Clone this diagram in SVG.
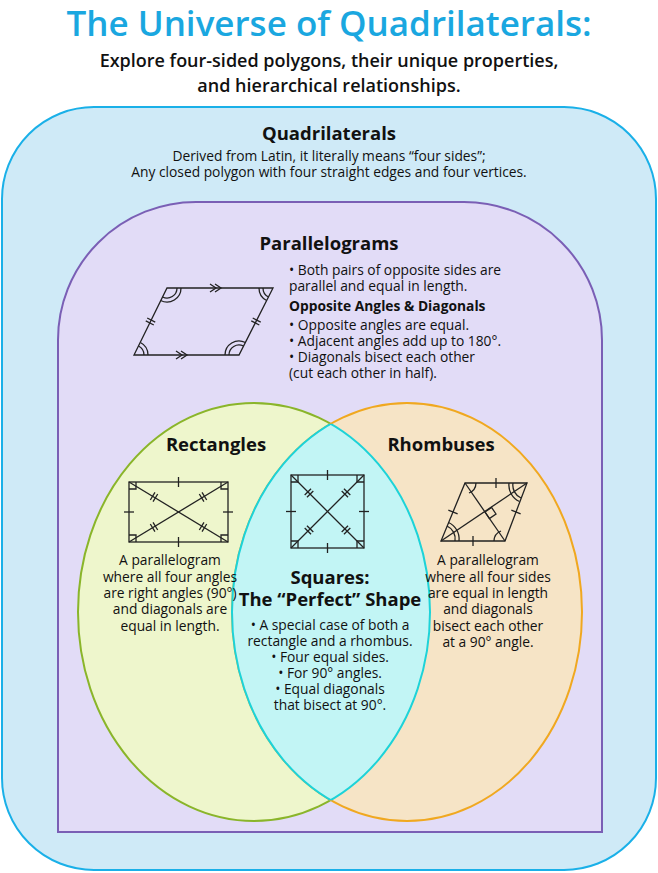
<svg xmlns="http://www.w3.org/2000/svg" xmlns:xlink="http://www.w3.org/1999/xlink" width="658" height="873" viewBox="0 0 658 873">
<style>
text{font-family:"Open Sans","Noto Sans","Liberation Sans",sans-serif;fill:#111;text-anchor:middle}
.h{font-size:18.5px;font-weight:bold}
.b{font-size:13.8px}
.l{text-anchor:start}
.fig{fill:none;stroke:#222;stroke-width:1.3}
</style>
<defs>
<g id="dt"><line x1="-1.6" y1="-4.5" x2="-1.6" y2="4.5"/><line x1="1.6" y1="-4.5" x2="1.6" y2="4.5"/></g>
<g id="st"><line x1="0" y1="-5" x2="0" y2="5"/></g>
<clipPath id="cl"><ellipse cx="254" cy="612" rx="176" ry="209"/></clipPath>
<clipPath id="cr"><ellipse cx="407" cy="612" rx="175" ry="209"/></clipPath>
</defs>
<rect width="658" height="873" fill="#fff"/>
<text x="329" y="36" style="font-size:35px;font-weight:600;fill:#1aa7e0">The Universe of Quadrilaterals:</text>
<text x="329" y="67" style="font-size:18px;font-weight:600">Explore four-sided polygons, their unique properties,</text>
<text x="329" y="92" style="font-size:18px;font-weight:600">and hierarchical relationships.</text>

<g id="quadrilaterals">
<rect x="2" y="107" width="654" height="763" rx="92" fill="#cfeaf7" stroke="#1ab0e8" stroke-width="2"/>
<text class="h" x="329" y="140">Quadrilaterals</text>
<text class="b" x="329" y="161">Derived from Latin, it literally means “four sides”;</text>
<text class="b" x="329" y="177">Any closed polygon with four straight edges and four vertices.</text>
</g>

<g id="parallelograms">
<path d="M58,832 V340 A138,138 0 0 1 196,202 H464 A138,138 0 0 1 602,340 V832 Z" fill="#e2dcf7" stroke="#7a5fb5" stroke-width="2"/>
<text class="h" x="329" y="250">Parallelograms</text>
<text class="b l" x="289" y="275">• Both pairs of opposite sides are</text>
<text class="b l" x="289" y="291">parallel and equal in length.</text>
<text class="b l" x="289" y="311" font-weight="bold">Opposite Angles &amp; Diagonals</text>
<text class="b l" x="289" y="330">• Opposite angles are equal.</text>
<text class="b l" x="289" y="346">• Adjacent angles add up to 180°.</text>
<text class="b l" x="289" y="362">• Diagonals bisect each other</text>
<text class="b l" x="289" y="378">(cut each other in half).</text>
<g class="fig">
<polygon points="167,288 273,288 239,355 134,355"/>
<path d="M210,284 L216,288 L210,292 M215,284 L221,288 L215,292"/>
<path d="M176,351 L182,355 L176,359 M181,351 L187,355 L181,359"/>
<use xlink:href="#dt" transform="translate(150.5,321.5) rotate(-63)"/>
<use xlink:href="#dt" transform="translate(256,321.5) rotate(-63)"/>
<path d="M177,288 A10,10 0 0 1 162.5,297 M181,288 A14,14 0 0 1 160.6,300.5"/>
<path d="M229,355 A10,10 0 0 1 243.5,346 M225,355 A14,14 0 0 1 245.4,342.5"/>
<path d="M263,288 A10,10 0 0 0 268.5,297 M259,288 A14,14 0 0 0 266.6,300.5"/>
<path d="M144,355 A10,10 0 0 0 138.5,346 M148,355 A14,14 0 0 0 140.4,342.5"/>
</g>
</g>

<g id="rectangles">
<ellipse cx="254" cy="612" rx="176" ry="209" fill="#eef6cc" stroke="#8ab52a" stroke-width="2"/>
</g>
<g id="rhombuses">
<ellipse cx="407" cy="612" rx="175" ry="209" fill="#f6e4c6" stroke="#f0a820" stroke-width="2"/>
</g>
<g id="squares">
<ellipse cx="407" cy="612" rx="175" ry="209" fill="#c2f5f5" stroke="#1dd3d8" stroke-width="2" clip-path="url(#cl)"/>
<ellipse cx="254" cy="612" rx="176" ry="209" fill="none" stroke="#1dd3d8" stroke-width="2" clip-path="url(#cr)"/>
</g>

<g id="rect-content">
<text class="h" x="216" y="451">Rectangles</text>
<text class="b" x="170" y="565">A parallelogram</text>
<text class="b" x="170" y="582">where all four angles</text>
<text class="b" x="170" y="598">are right angles (90°)</text>
<text class="b" x="170" y="614">and diagonals are</text>
<text class="b" x="170" y="631">equal in length.</text>
<g class="fig">
<rect x="129" y="482" width="99" height="60"/>
<line x1="129" y1="482" x2="228" y2="542"/><line x1="228" y1="482" x2="129" y2="542"/>
<path d="M129,489 H136 V482 M221,482 V489 H228 M129,535 H136 V542 M221,542 V535 H228"/>
<use xlink:href="#st" transform="translate(178.5,482)"/>
<use xlink:href="#st" transform="translate(178.5,542)"/>
<use xlink:href="#st" transform="translate(129,512) rotate(90)"/>
<use xlink:href="#st" transform="translate(228,512) rotate(90)"/>
<use xlink:href="#dt" transform="translate(154,497) rotate(31)"/>
<use xlink:href="#dt" transform="translate(203,527) rotate(31)"/>
<use xlink:href="#dt" transform="translate(203,497) rotate(-31)"/>
<use xlink:href="#dt" transform="translate(154,527) rotate(-31)"/>
</g>
</g>

<g id="rhomb-content">
<text class="h" x="441" y="451">Rhombuses</text>
<text class="b" x="488" y="565">A parallelogram</text>
<text class="b" x="488" y="582">where all four sides</text>
<text class="b" x="488" y="598">are equal in length</text>
<text class="b" x="488" y="614">and diagonals</text>
<text class="b" x="488" y="631">bisect each other</text>
<text class="b" x="488" y="647">at a 90° angle.</text>
<g class="fig">
<polygon points="465,483 527,483 505,541 441,541"/>
<line x1="441" y1="541" x2="527" y2="483"/><line x1="465" y1="483" x2="505" y2="541"/>
<polygon points="485,512 491.6,507.5 496,514 489.4,518.5"/>
<use xlink:href="#st" transform="translate(496,483)"/>
<use xlink:href="#st" transform="translate(473,541)"/>
<use xlink:href="#st" transform="translate(453,512) rotate(-68)"/>
<use xlink:href="#st" transform="translate(516,512) rotate(-68)"/>
<path d="M455,541 A14,14 0 0 0 447,526 M459,541 A18,18 0 0 0 448.5,522.5"/>
<path d="M513,483 A14,14 0 0 0 521,498 M509,483 A18,18 0 0 0 519.5,501.5"/>
<path d="M469,493 A11,11 0 0 0 476,483"/>
<path d="M501,531 A11,11 0 0 0 494,541"/>
</g>
</g>

<g id="square-content">
<text class="h" x="330" y="584">Squares:</text>
<text class="h" x="330" y="606">The “Perfect” Shape</text>
<text class="b" x="330" y="630">• A special case of both a</text>
<text class="b" x="330" y="646">rectangle and a rhombus.</text>
<text class="b" x="330" y="662">• Four equal sides.</text>
<text class="b" x="330" y="678">• For 90° angles.</text>
<text class="b" x="330" y="694">• Equal diagonals</text>
<text class="b" x="330" y="710">that bisect at 90°.</text>
<g class="fig">
<rect x="291" y="475" width="73" height="73"/>
<line x1="291" y1="475" x2="364" y2="548"/><line x1="364" y1="475" x2="291" y2="548"/>
<path d="M291,482 H298 V475 M357,475 V482 H364 M291,541 H298 V548 M357,548 V541 H364"/>
<use xlink:href="#st" transform="translate(327.5,475)"/>
<use xlink:href="#st" transform="translate(327.5,548)"/>
<use xlink:href="#st" transform="translate(291,511.5) rotate(90)"/>
<use xlink:href="#st" transform="translate(364,511.5) rotate(90)"/>
<use xlink:href="#dt" transform="translate(309,493) rotate(45)"/>
<use xlink:href="#dt" transform="translate(346,530) rotate(45)"/>
<use xlink:href="#dt" transform="translate(346,493) rotate(-45)"/>
<use xlink:href="#dt" transform="translate(309,530) rotate(-45)"/>
</g>
</g>
</svg>
